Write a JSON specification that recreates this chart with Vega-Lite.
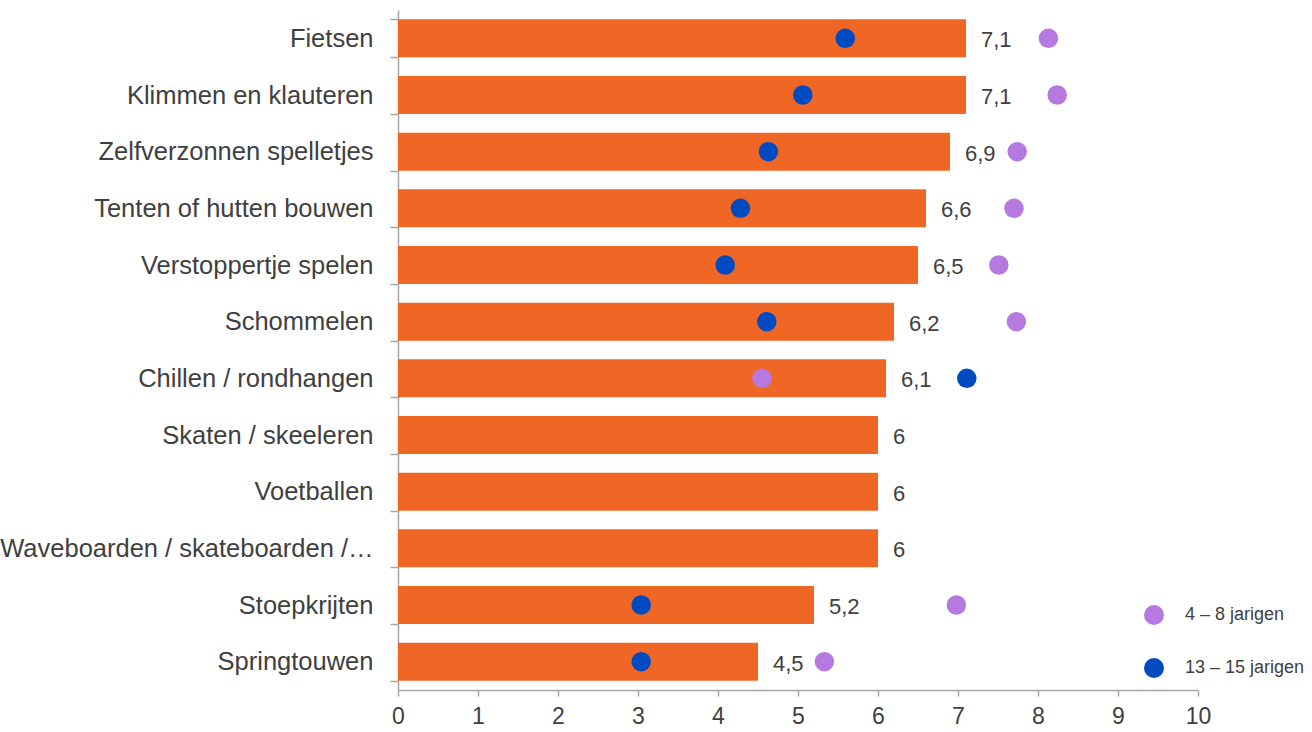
{
  "$schema": "https://vega.github.io/schema/vega-lite/v6.json",
  "autosize": "none",
  "width": 800,
  "height": 680,
  "padding": {"left": 398, "top": 10, "right": 114, "bottom": 42},
  "background": "white",
  "config": {
    "view": {"stroke": null},
    "font": "Liberation Sans",
    "axis": {"labelFont": "Liberation Sans", "labelColor": "#404040", "domainColor": "#A6A6A6", "tickColor": "#A6A6A6", "domainWidth": 1.5, "tickWidth": 1.5, "grid": false, "title": null}
  },
  "datasets": {
    "bars": [
      {"cat": "Fietsen", "score": 7.1},
      {"cat": "Klimmen en klauteren", "score": 7.1},
      {"cat": "Zelfverzonnen spelletjes", "score": 6.9},
      {"cat": "Tenten of hutten bouwen", "score": 6.6},
      {"cat": "Verstoppertje spelen", "score": 6.5},
      {"cat": "Schommelen", "score": 6.2},
      {"cat": "Chillen / rondhangen", "score": 6.1},
      {"cat": "Skaten / skeeleren", "score": 6},
      {"cat": "Voetballen", "score": 6},
      {"cat": "Waveboarden / skateboarden /…", "score": 6},
      {"cat": "Stoepkrijten", "score": 5.2},
      {"cat": "Springtouwen", "score": 4.5}
    ],
    "dots": [
      {"cat": "Fietsen", "group": "4 – 8 jarigen", "value": 8.13},
      {"cat": "Fietsen", "group": "13 – 15 jarigen", "value": 5.59},
      {"cat": "Klimmen en klauteren", "group": "4 – 8 jarigen", "value": 8.24},
      {"cat": "Klimmen en klauteren", "group": "13 – 15 jarigen", "value": 5.06},
      {"cat": "Zelfverzonnen spelletjes", "group": "4 – 8 jarigen", "value": 7.74},
      {"cat": "Zelfverzonnen spelletjes", "group": "13 – 15 jarigen", "value": 4.63},
      {"cat": "Tenten of hutten bouwen", "group": "4 – 8 jarigen", "value": 7.7},
      {"cat": "Tenten of hutten bouwen", "group": "13 – 15 jarigen", "value": 4.28},
      {"cat": "Verstoppertje spelen", "group": "4 – 8 jarigen", "value": 7.51},
      {"cat": "Verstoppertje spelen", "group": "13 – 15 jarigen", "value": 4.09},
      {"cat": "Schommelen", "group": "4 – 8 jarigen", "value": 7.73},
      {"cat": "Schommelen", "group": "13 – 15 jarigen", "value": 4.61},
      {"cat": "Chillen / rondhangen", "group": "4 – 8 jarigen", "value": 4.55},
      {"cat": "Chillen / rondhangen", "group": "13 – 15 jarigen", "value": 7.11},
      {"cat": "Stoepkrijten", "group": "4 – 8 jarigen", "value": 6.98},
      {"cat": "Stoepkrijten", "group": "13 – 15 jarigen", "value": 3.04},
      {"cat": "Springtouwen", "group": "4 – 8 jarigen", "value": 5.33},
      {"cat": "Springtouwen", "group": "13 – 15 jarigen", "value": 3.04}
    ]
  },
  "layer": [
    {
      "data": {"name": "bars"},
      "mark": {"type": "bar", "color": "#F06624"},
      "encoding": {
        "y": {
          "field": "cat", "type": "nominal", "sort": null,
          "scale": {"paddingInner": 0.33, "paddingOuter": 0.165},
          "axis": {"tickBand": "extent", "tickSize": 8, "labelFontSize": 25.5, "labelLimit": 600, "labelPadding": 17}
        },
        "x": {
          "field": "score", "type": "quantitative",
          "scale": {"domain": [0, 10], "nice": false},
          "axis": {"values": [0,1,2,3,4,5,6,7,8,9,10], "tickSize": 6, "labelFontSize": 23, "labelPadding": 9, "labelFlush": false, "format": "d"}
        }
      }
    },
    {
      "data": {"name": "bars"},
      "transform": [{"calculate": "replace(format(datum.score, '~g'), '.', ',')", "as": "lbl"}],
      "mark": {"type": "text", "align": "left", "baseline": "middle", "dx": 15, "dy": 2, "fontSize": 22, "color": "#404040", "font": "Liberation Sans"},
      "encoding": {
        "y": {"field": "cat", "type": "nominal", "sort": null},
        "x": {"field": "score", "type": "quantitative"},
        "text": {"field": "lbl", "type": "nominal"}
      }
    },
    {
      "data": {"name": "dots"},
      "mark": {"type": "point", "shape": "circle", "filled": true, "opacity": 1, "size": 380},
      "encoding": {
        "y": {"field": "cat", "type": "nominal", "sort": null},
        "x": {"field": "value", "type": "quantitative"},
        "color": {
          "field": "group", "type": "nominal",
          "scale": {"domain": ["4 – 8 jarigen", "13 – 15 jarigen"], "range": ["#B679E0", "#004BC1"]},
          "legend": {
            "orient": "none", "legendX": 746, "legendY": 595, "title": null, "padding": 0,
            "symbolType": "circle", "symbolSize": 400, "symbolOpacity": 1, "symbolStrokeWidth": 0,
            "labelFontSize": 18, "labelColor": "#404040", "labelFont": "Liberation Sans", "labelOffset": 21, "rowPadding": 33
          }
        }
      }
    }
  ]
}
